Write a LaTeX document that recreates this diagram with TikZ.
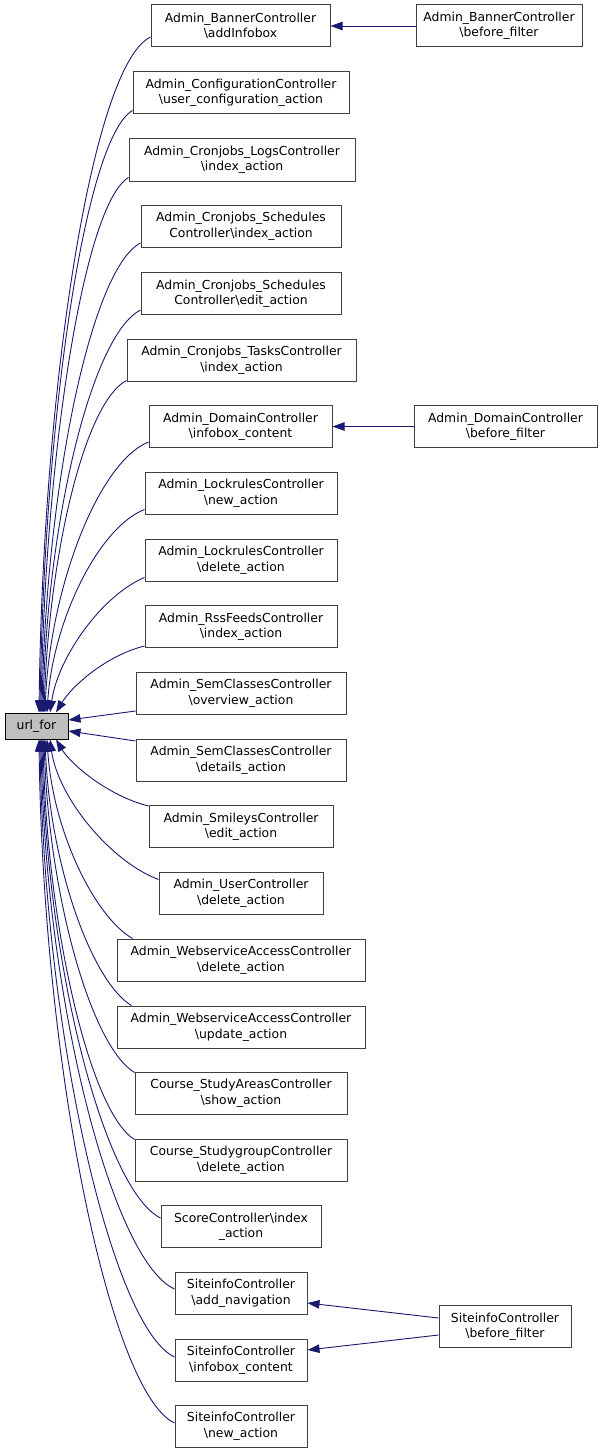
\documentclass[tikz,border=0pt]{standalone}
\usepackage{fontspec}
\setmainfont{DejaVu Sans}
\usetikzlibrary{arrows.meta}

\tikzset{
  funcbox/.style={draw=black!75, line width=1pt, fill=white, align=center,
    minimum height=42pt, inner sep=0pt, font=\fontsize{12.4}{15.5}\selectfont},
  rootbox/.style={funcbox, draw=black, fill=black!25, minimum height=26pt},
  callline/.style={draw={rgb,255:red,25;green,25;blue,112}, line width=0.9pt,
    -{Triangle[length=12pt,width=8.5pt]}}
}
\newcommand{\bs}{\textbackslash}

\begin{document}
\begin{tikzpicture}[x=1pt, y=1pt]
\useasboundingbox (0,0) rectangle (603,-1453); % поле рисунка
\node[rootbox, minimum width=63pt] (urlfor) at (36.5,-726) {url\_for}; % корневой узел
% левая колонка вызывающих
\node[funcbox, minimum width=179pt] (bannerAdd) at (240.5,-26) {Admin\_BannerController\\\bs addInfobox};
\node[funcbox, minimum width=216pt] (configUser) at (241,-93) {Admin\_ConfigurationController\\\bs user\_configuration\_action};
\node[funcbox, minimum width=226pt] (cronLogsIndex) at (242,-160) {Admin\_Cronjobs\_LogsController\\\bs index\_action};
\node[funcbox, minimum width=200pt] (cronSchedIndex) at (241,-226.5) {Admin\_Cronjobs\_Schedules\\Controller\bs index\_action};
\node[funcbox, minimum width=200pt] (cronSchedEdit) at (241,-293.5) {Admin\_Cronjobs\_Schedules\\Controller\bs edit\_action};
\node[funcbox, minimum width=229pt] (cronTasksIndex) at (241.5,-360) {Admin\_Cronjobs\_TasksController\\\bs index\_action};
\node[funcbox, minimum width=183pt] (domainInfobox) at (240.5,-426.5) {Admin\_DomainController\\\bs infobox\_content};
\node[funcbox, minimum width=192pt] (lockNew) at (241,-493) {Admin\_LockrulesController\\\bs new\_action};
\node[funcbox, minimum width=192pt] (lockDelete) at (241,-560) {Admin\_LockrulesController\\\bs delete\_action};
\node[funcbox, minimum width=192pt] (rssIndex) at (241,-626.5) {Admin\_RssFeedsController\\\bs index\_action};
\node[funcbox, minimum width=210pt] (semOverview) at (241,-693) {Admin\_SemClassesController\\\bs overview\_action};
\node[funcbox, minimum width=210pt] (semDetails) at (241,-760) {Admin\_SemClassesController\\\bs details\_action};
\node[funcbox, minimum width=184pt] (smileysEdit) at (241,-826.5) {Admin\_SmileysController\\\bs edit\_action};
\node[funcbox, minimum width=164pt] (userDelete) at (241,-893) {Admin\_UserController\\\bs delete\_action};
\node[funcbox, minimum width=248pt] (wsDelete) at (241,-960) {Admin\_WebserviceAccessController\\\bs delete\_action};
\node[funcbox, minimum width=248pt] (wsUpdate) at (241,-1027) {Admin\_WebserviceAccessController\\\bs update\_action};
\node[funcbox, minimum width=212pt] (studyAreasShow) at (241,-1093) {Course\_StudyAreasController\\\bs show\_action};
\node[funcbox, minimum width=212pt] (studygroupDelete) at (241,-1160) {Course\_StudygroupController\\\bs delete\_action};
\node[funcbox, minimum width=160pt] (scoreIndex) at (241,-1226.5) {ScoreController\bs index\\\_action};
\node[funcbox, minimum width=132pt] (siteNav) at (241,-1293) {SiteinfoController\\\bs add\_navigation};
\node[funcbox, minimum width=132pt] (siteInfobox) at (241,-1360) {SiteinfoController\\\bs infobox\_content};
\node[funcbox, minimum width=132pt] (siteNew) at (241,-1426) {SiteinfoController\\\bs new\_action};
% правая колонка
\node[funcbox, minimum width=166pt] (bannerBefore) at (499,-26) {Admin\_BannerController\\\bs before\_filter};
\node[funcbox, minimum width=183pt] (domainBefore) at (505.5,-426.5) {Admin\_DomainController\\\bs before\_filter};
\node[funcbox, minimum width=132pt] (siteBefore) at (505,-1326.5) {SiteinfoController\\\bs before\_filter};
% связи сверху в url_for
\draw[callline] ([yshift=-11]bannerAdd.west) .. controls +(-58,-28) and +(4,330) .. ([xshift=2.5]urlfor.north);
\draw[callline] ([yshift=4]configUser.south west) .. controls +(-48,-28) and +(4,290) .. ([xshift=3.5]urlfor.north);
\draw[callline] ([yshift=4]cronLogsIndex.south west) .. controls +(-45,-27) and +(4,255) .. ([xshift=4.5]urlfor.north);
\draw[callline] ([yshift=5]cronSchedIndex.south west) .. controls +(-50,-26) and +(4,222) .. ([xshift=5.5]urlfor.north);
\draw[callline] ([yshift=5]cronSchedEdit.south west) .. controls +(-49,-25) and +(4,190) .. ([xshift=6.5]urlfor.north);
\draw[callline] ([yshift=1]cronTasksIndex.south west) .. controls +(-42,-22) and +(5,158) .. ([xshift=7.5]urlfor.north);
\draw[callline] ([yshift=6]domainInfobox.south west) .. controls +(-50,-20) and +(5,125) .. ([xshift=8.5]urlfor.north);
\draw[callline] ([yshift=5]lockNew.south west) .. controls +(-46,-18) and +(6,92) .. ([xshift=10.5]urlfor.north);
\draw[callline] ([yshift=4]lockDelete.south west) .. controls +(-43,-18) and +(8,55) .. ([xshift=13.5]urlfor.north);
\draw[callline] ([yshift=2]rssIndex.south west) .. controls +(-40,-10) and +(15,25) .. ([xshift=19.5]urlfor.north);
% связи сбоку
\draw[callline] ([yshift=-18]semOverview.west) -- ([yshift=6]urlfor.east);
\draw[callline] ([yshift=19]semDetails.west) -- ([yshift=-5]urlfor.east);
% связи снизу в url_for
\draw[callline] ([yshift=-1]smileysEdit.north west) .. controls +(-40,10) and +(15,-25) .. ([xshift=19.5]urlfor.south);
\draw[callline] ([yshift=-8]userDelete.north west) .. controls +(-48,18) and +(8,-58) .. ([xshift=13.5]urlfor.south);
\draw[callline] ([xshift=16]wsDelete.north west) .. controls +(-38,22) and +(6,-92) .. ([xshift=10.5]urlfor.south);
\draw[callline] ([xshift=15]wsUpdate.north west) .. controls +(-40,24) and +(5,-125) .. ([xshift=8.5]urlfor.south);
\draw[callline] ([yshift=-1]studyAreasShow.north west) .. controls +(-43,26) and +(5,-158) .. ([xshift=7.5]urlfor.south);
\draw[callline] ([yshift=-1]studygroupDelete.north west) .. controls +(-44,27) and +(4,-190) .. ([xshift=6.5]urlfor.south);
\draw[callline] ([yshift=-13]scoreIndex.north west) .. controls +(-56,28) and +(4,-225) .. ([xshift=5.5]urlfor.south);
\draw[callline] ([yshift=4]siteNav.west) .. controls +(-62,28) and +(4,-260) .. ([xshift=4.5]urlfor.south);
\draw[callline] ([yshift=3]siteInfobox.west) .. controls +(-62,29) and +(4,-295) .. ([xshift=3.5]urlfor.south);
\draw[callline] ([yshift=3]siteNew.west) .. controls +(-64,30) and +(4,-330) .. ([xshift=2.5]urlfor.south);
% связи из правой колонки
\draw[callline] (bannerBefore.west) -- (bannerAdd.east);
\draw[callline] (domainBefore.west) -- (domainInfobox.east);
\draw[callline] ([yshift=8.5]siteBefore.west) -- ([yshift=-10]siteNav.east);
\draw[callline] ([yshift=-8.5]siteBefore.west) -- ([yshift=10]siteInfobox.east);
\end{tikzpicture}
\end{document}
